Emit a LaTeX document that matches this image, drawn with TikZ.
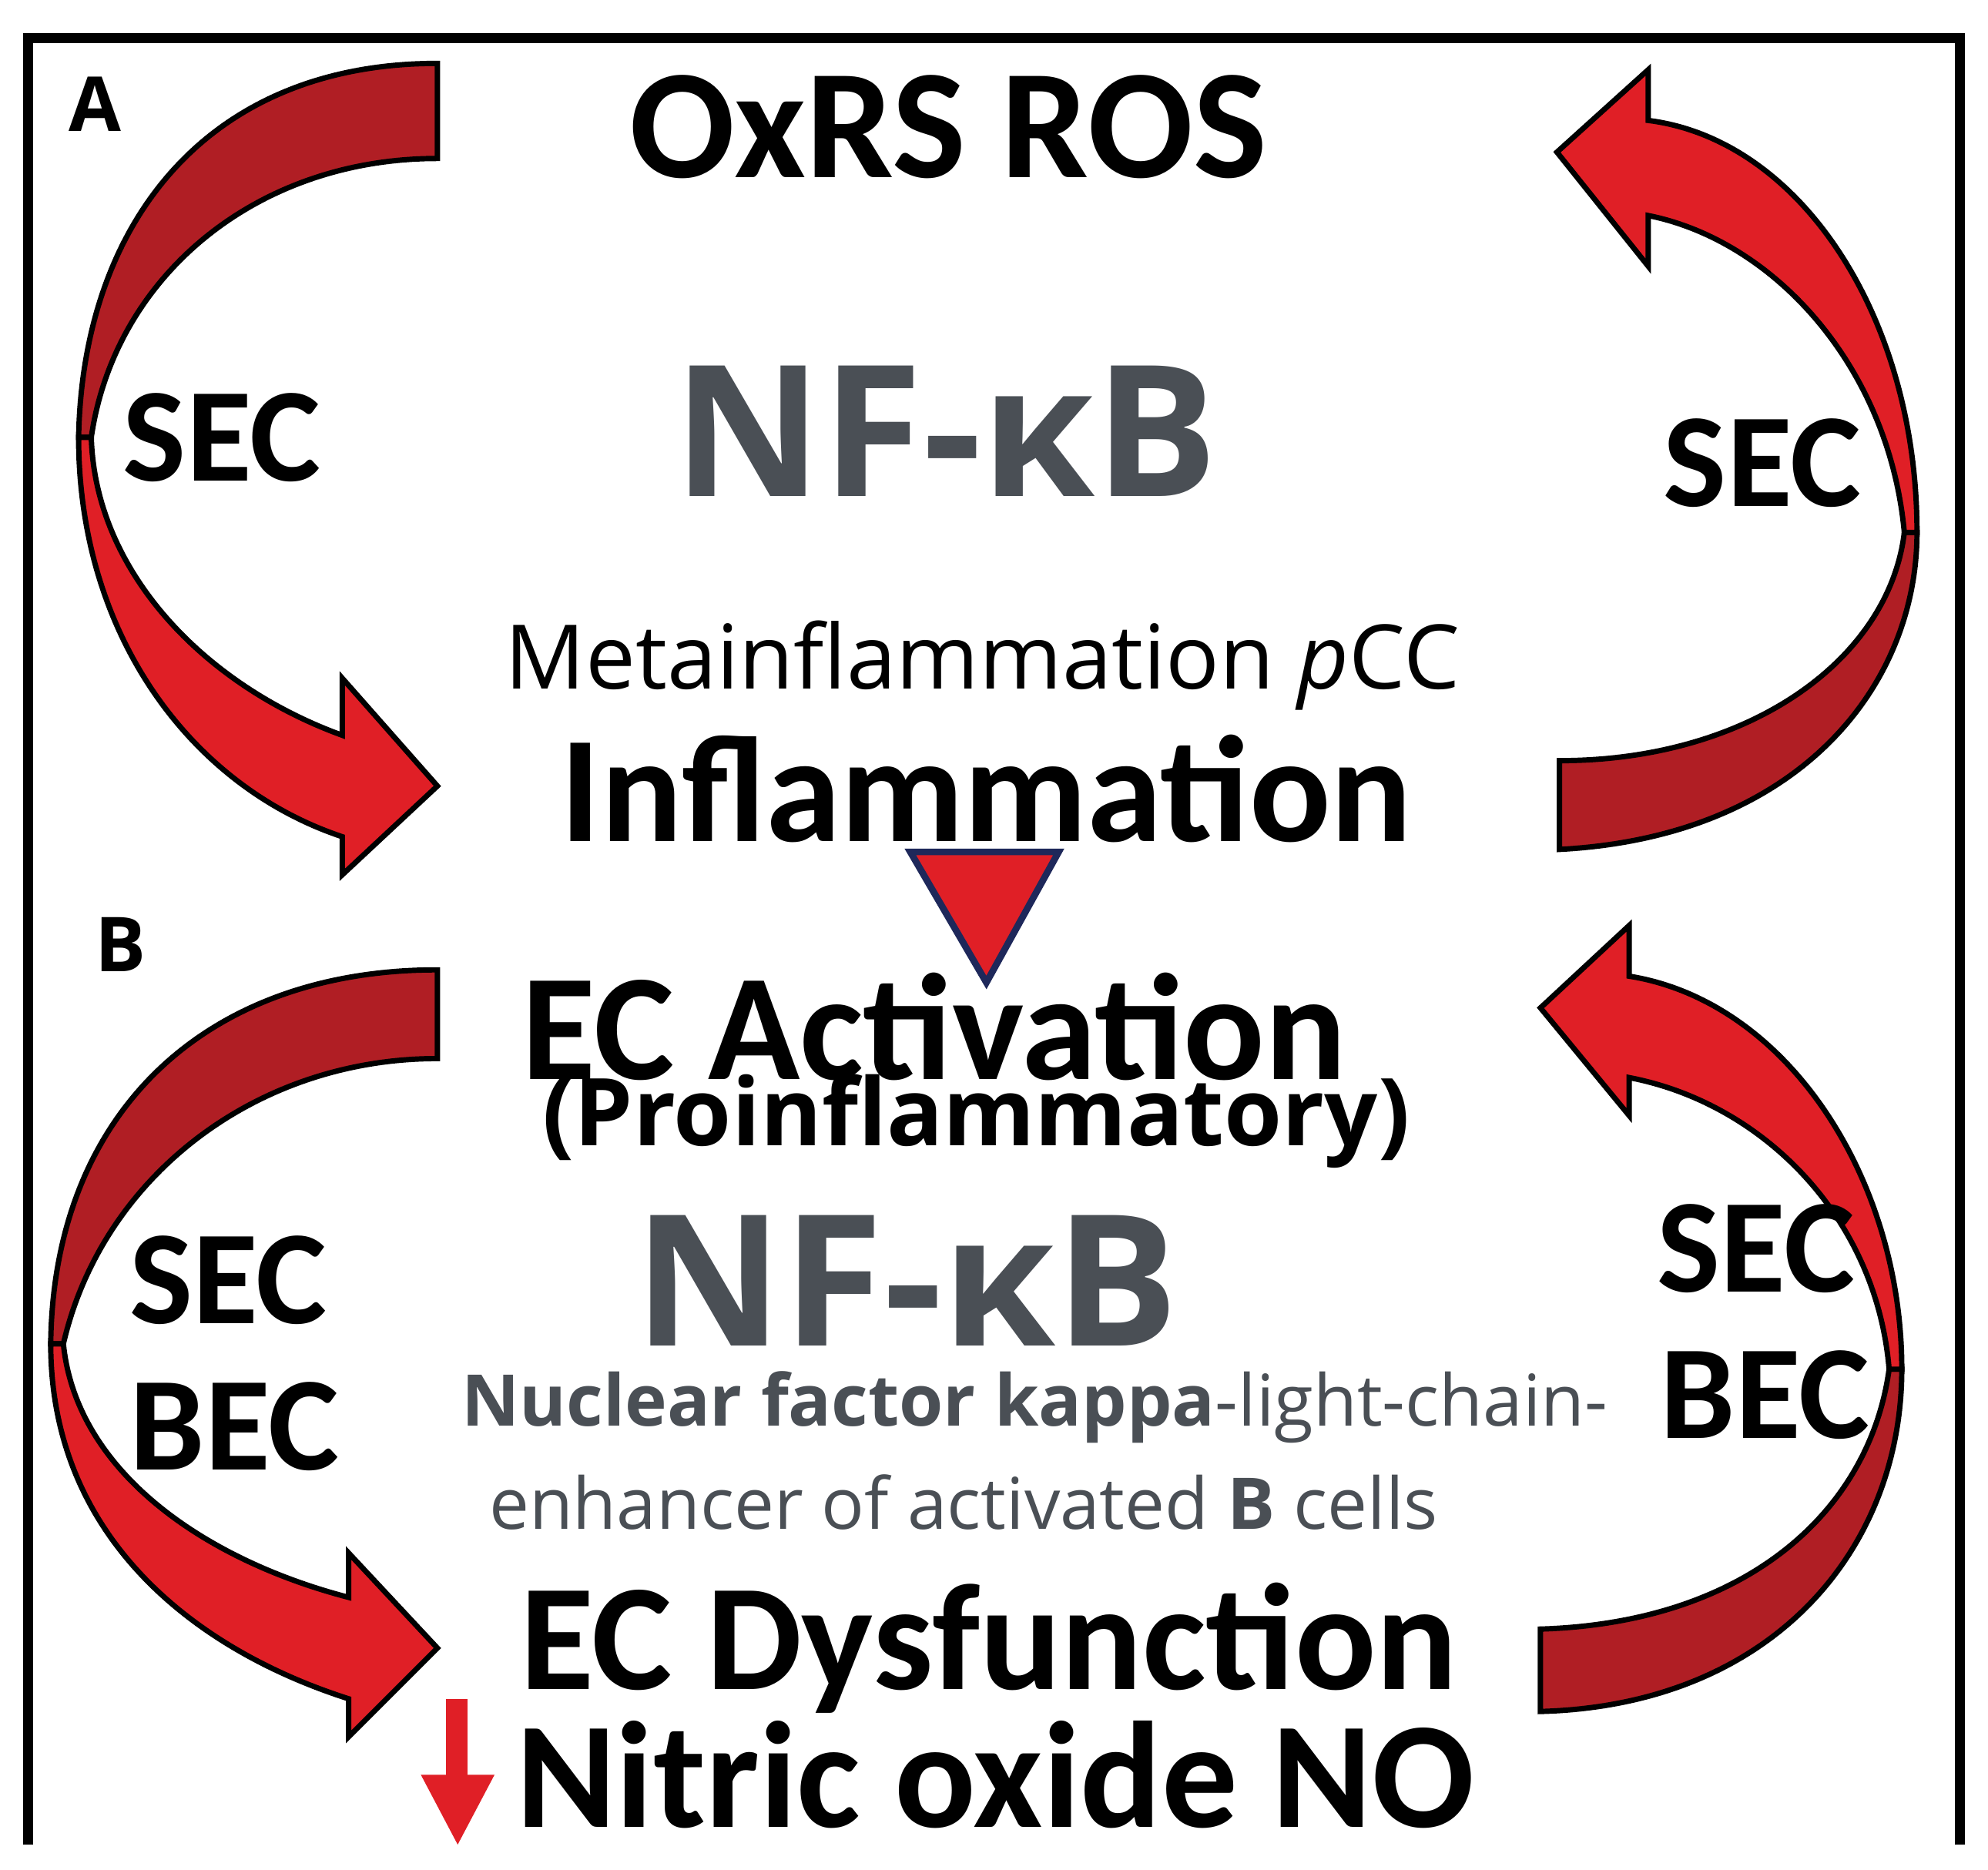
\documentclass[tikz,border=0pt]{standalone}
\usepackage{fontspec}
\setmainfont{Carlito}
\newfontfamily\osans{Open Sans}
\definecolor{dkred}{RGB}{176,30,36}
\definecolor{brred}{RGB}{224,31,38}
\definecolor{nfgray}{RGB}{74,79,85}
\definecolor{trib}{RGB}{30,40,90}
\begin{document}
\begin{tikzpicture}[x=0.01cm,y=-0.01cm,
 dk/.style={fill=dkred, draw=black, line width=1.2pt},
 br/.style={fill=brred, draw=black, line width=1.2pt},
 lab/.style={font=\bfseries\fontsize{34}{38}\selectfont},
 gr/.style={text=nfgray},
 sec/.style={font=\bfseries\fontsize{30}{34}\selectfont, align=center}]
\useasboundingbox (0,0) rectangle (1568,1475);
\fill[white] (0,0) rectangle (1568,1475);
\draw[line width=2.2pt] (22,1455) -- (22,30) -- (1546,30) -- (1546,1455);
% top-left arrow
\path[dk] (345,50) .. controls (160,50) and (65,180) .. (62,345) -- (72,345) .. controls (90,220) and (200,125) .. (345,125) -- cycle;
\path[br] (62,345) .. controls (62,500) and (150,620) .. (270,660) -- (270,690) -- (345,620) -- (270,535) -- (270,580) .. controls (160,540) and (75,450) .. (72,345) -- cycle;
% top-right arrow
\path[dk] (1230,600) -- (1230,670) .. controls (1420,660) and (1512,540) .. (1512,420) -- (1502,420) .. controls (1490,520) and (1380,600) .. (1230,600) -- cycle;
\path[br] (1512,420) .. controls (1512,250) and (1420,110) .. (1300,95) -- (1300,55) -- (1228,120) -- (1300,210) -- (1300,170) .. controls (1400,190) and (1490,290) .. (1502,420) -- cycle;
% bottom-left arrow
\path[dk] (345,765) .. controls (160,765) and (42,880) .. (40,1060) -- (50,1060) .. controls (80,930) and (200,835) .. (345,835) -- cycle;
\path[br] (40,1060) .. controls (40,1210) and (150,1300) .. (275,1340) -- (275,1370) -- (345,1300) -- (275,1225) -- (275,1260) .. controls (160,1230) and (60,1160) .. (50,1060) -- cycle;
% bottom-right arrow
\path[dk] (1215,1285) -- (1215,1350) .. controls (1400,1345) and (1500,1220) .. (1500,1080) -- (1490,1080) .. controls (1475,1190) and (1380,1280) .. (1215,1285) -- cycle;
\path[br] (1500,1080) .. controls (1500,930) and (1410,790) .. (1285,770) -- (1285,730) -- (1215,795) -- (1285,880) -- (1285,850) .. controls (1390,870) and (1480,960) .. (1490,1080) -- cycle;
% triangle
\path[fill=brred, draw=trib, line width=1.5pt] (718,672) -- (835,672) -- (778,775) -- cycle;
% down arrow
\fill[brred] (352,1340) rectangle (369,1402);
\fill[brred] (332,1400) -- (390,1400) -- (361,1455) -- cycle;
% texts
\node[font=\osans\bfseries\fontsize{17}{20}\selectfont] (A) at (75,82) {A};
\node[font=\osans\bfseries\fontsize{17}{20}\selectfont] (B) at (95,745) {B};
\node[lab,font=\bfseries\fontsize{35}{38}\selectfont] (ox) at (748,100) {OxRS ROS};
\node[gr,font=\osans\bfseries\fontsize{41}{46}\selectfont] (nf1) at (746,340) {NF-κB};
\node[font=\osans\fontsize{20}{24}\selectfont] (meta) at (775,525) {Metainflammation \textit{p}CC};
\node[lab] (infl) at (778,622) {Inflammation};
\node[lab] (eca) at (737,810) {EC Activation};
\node[font=\osans\bfseries\fontsize{21}{22}\selectfont] (pro) at (770,884) {(Proinflammatory)};
\node[gr,font=\osans\bfseries\fontsize{41}{46}\selectfont] (nf2) at (715,1010) {NF-κB};
\node[gr,font=\osans\fontsize{16}{20}\selectfont] (nuc1) at (816,1110) {\textbf{Nuclear factor kappa}-light-chain-};
\node[gr,font=\osans\fontsize{16}{20}\selectfont] (nuc2) at (760,1185) {enhancer of activated \textbf{B} cells};
\node[lab] (ecd) at (780,1300) {EC Dysfunction};
\node[lab] (no) at (785,1400) {Nitric oxide NO};
\node[sec] (s1) at (175,345) {SEC};
\node[sec] (s2) at (1390,365) {SEC};
\node[sec] (s3) at (180,1010) {SEC};
\node[sec] (b3) at (185,1125) {BEC};
\node[sec] (s4) at (1385,985) {SEC};
\node[sec] (b4) at (1392,1100) {BEC};
\end{tikzpicture}
\end{document}
